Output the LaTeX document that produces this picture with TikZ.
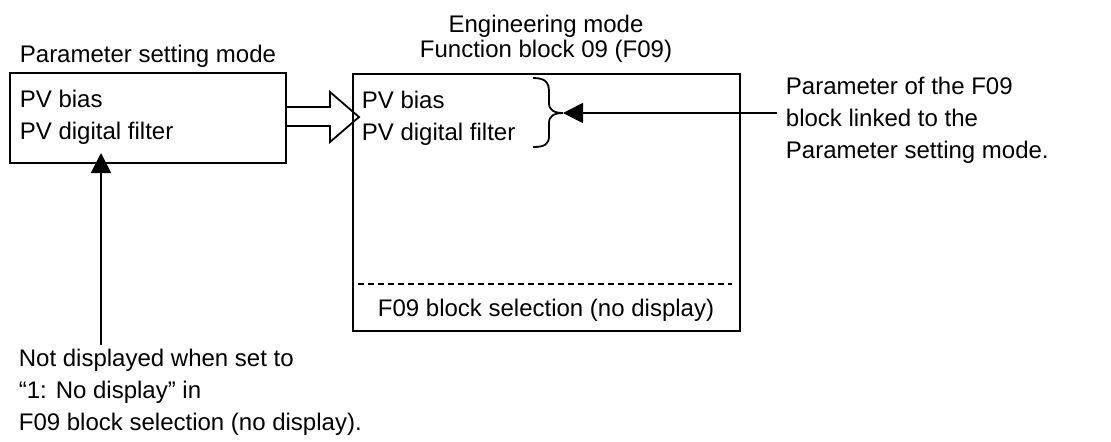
\documentclass[tikz,border=0pt]{standalone}
\usepackage{fontspec}
\setmainfont{Liberation Sans}
\usetikzlibrary{arrows.meta}
\begin{document}
\begin{tikzpicture}[x=0.5pt,y=-0.5pt,line width=0.9pt,
    font=\fontsize{12}{16}\selectfont,
    txt/.style={inner sep=0pt,anchor=base west,align=left},
    frame/.style={draw,inner sep=0pt,anchor=north west},
    tip/.style={-{Triangle[length=10pt,width=10pt]}}]
  \useasboundingbox (0,0) rectangle (1111,441);
  % parameter setting mode
  \node[txt] (ptitle) at (19,62) {Parameter setting mode};
  \node[frame,minimum width=138pt,minimum height=45pt] (pbox) at (9,72) {};
  \node[txt] (plist) at (19,139) {PV bias\\PV digital filter};
  % engineering mode, F09 (base = last line)
  \node[txt,anchor=base,align=center,font=\fontsize{12}{12.5}\selectfont] (etitle) at (546,57)
    {Engineering mode\\Function block 09 (F09)};
  \node[frame,minimum width=193.5pt,minimum height=128.5pt] (ebox) at (352,73) {};
  \node[txt] (elist) at (361,140) {PV bias\\PV digital filter};
  \draw[dash pattern=on 3pt off 2pt] (358,284) -- (732,284);
  \node[txt,anchor=base] (esel) at (546,316) {F09 block selection (no display)};
  % hollow arrow between the modes
  \coordinate (fwdtip) at (359,117);
  \draw[line join=miter] (pbox.east |- 0,107) -- (330,107) -- (330,92) -- (fwdtip)
    -- (330,142) -- (330,126) -- (pbox.east |- 0,126);
  % brace and link note
  \coordinate (bracetip) at (563,113);
  \draw (533,78) .. controls (545,78) and (549,82) .. (549,92) -- (549,103)
    .. controls (549,110) and (554,113) .. (bracetip)
    .. controls (554,113) and (549,116) .. (549,123) -- (549,136)
    .. controls (549,144) and (545,147) .. (533,147);
  \node[txt] (linknote) at (785,158)
    {Parameter of the F09\\block linked to the\\Parameter setting mode.};
  \draw[tip] (linknote.west |- bracetip) ++(-4pt,0) -- (bracetip);
  % display note
  \coordinate (uptip) at (101,153);
  \node[txt] (hidenote) at (18,430)
    {Not displayed when set to\\“1: No display” in\\F09 block selection (no display).};
  \draw[tip] (uptip |- 0,345) -- (uptip);
\end{tikzpicture}
\end{document}
